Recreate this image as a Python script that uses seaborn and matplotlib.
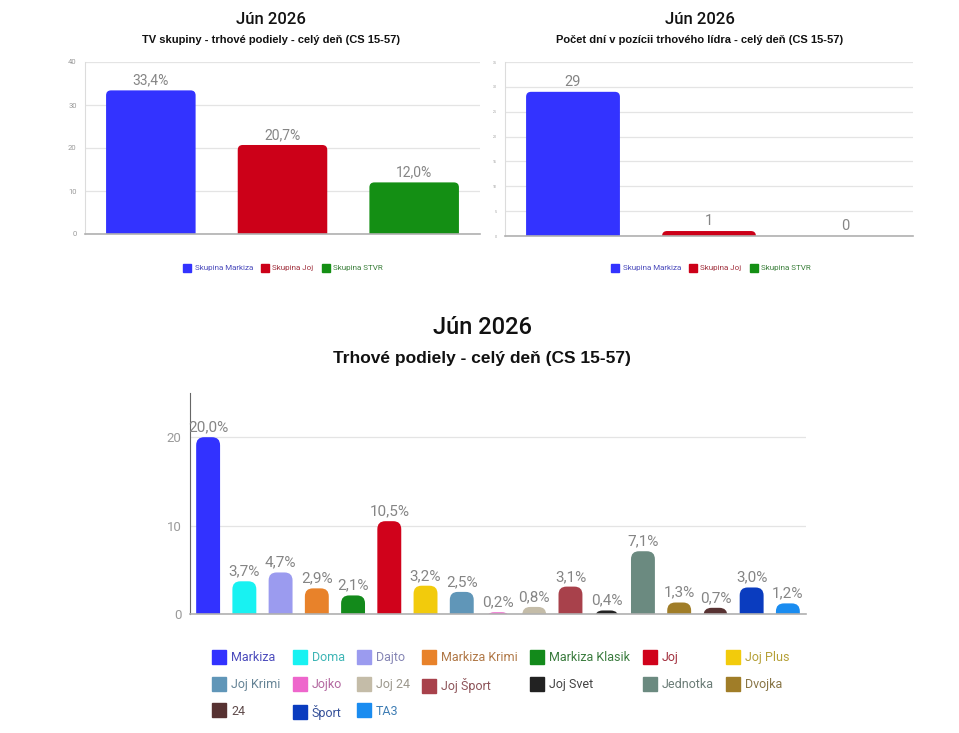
import matplotlib
matplotlib.use("Agg")
import matplotlib.pyplot as plt
import seaborn as sns
from matplotlib.patches import FancyBboxPatch
from matplotlib.lines import Line2D
import matplotlib.colors as mcolors

# data
skupiny = ["Skupina Markiza", "Skupina Joj", "Skupina STVR"]
skupiny_farby = ["#3333ff", "#cc0018", "#148f14"]
podiely_skupin = [33.4, 20.7, 12.0]
dni_lider = [29, 1, 0]

kanaly = ["Markiza", "Doma", "Dajto", "Markiza Krimi", "Markiza Klasik", "Joj",
          "Joj Plus", "Joj Krimi", "Jojko", "Joj 24", "Joj Šport", "Joj Svet",
          "Jednotka", "Dvojka", "24", "Šport", "TA3"]
kanaly_farby = ["#3232ff", "#18f2f2", "#9b9bef", "#e8822a", "#138a1b", "#d0021b",
                "#f2cb0c", "#6096b8", "#ee66cc", "#c4bca8", "#a8414b", "#222222",
                "#6b8a80", "#a07d28", "#573232", "#0a3cbf", "#1a8cf0"]
podiely_kanalov = [20.0, 3.7, 4.7, 2.9, 2.1, 10.5, 3.2, 2.5, 0.2, 0.8, 3.1, 0.4,
                   7.1, 1.3, 0.7, 3.0, 1.2]

sns.set_theme(style="white")
plt.rcParams["font.family"] = ["Roboto", "DejaVu Sans"]

W, H = 959, 733
fig = plt.figure(figsize=(W / 100, H / 100), dpi=100)
fig.patch.set_facecolor("white")


def px_axes(l, t, r, b):
    return fig.add_axes([l / W, 1 - b / H, (r - l) / W, (b - t) / H])


def zaobli(ax, r_px):
    # rounded top corners, bottom cut off by the axes
    bb = ax.get_window_extent()
    x0, x1 = ax.get_xlim()
    y0, y1 = ax.get_ylim()
    dx = (x1 - x0) / bb.width
    dy = (y1 - y0) / bb.height
    rx, ry = r_px * dx, r_px * dy
    for p in list(ax.patches):
        x, w, h = p.get_x(), p.get_width(), p.get_height()
        if h <= 0:
            p.set_visible(False)
            continue
        bottom = min(-ry, h - 2 * ry)
        fb = FancyBboxPatch((x, bottom), w, h - bottom,
                            boxstyle=f"round,pad=0,rounding_size={rx}",
                            mutation_aspect=dy / dx, fc=p.get_facecolor(),
                            ec="none", zorder=2)
        ax.add_patch(fb)
        p.set_visible(False)


def styl(ax, ylim, ticks, tsize, left_spine_col):
    ax.set_ylim(*ylim)
    ax.set_yticks(ticks)
    ax.tick_params(axis="y", labelsize=tsize, colors="#9a9a9a", length=0, pad=6)
    ax.yaxis.grid(True, color="#e4e4e4", lw=0.9)
    ax.set_axisbelow(True)
    for s in ["top", "right"]:
        ax.spines[s].set_visible(False)
    ax.spines["left"].set_color(left_spine_col)
    ax.spines["left"].set_linewidth(0.8)
    ax.spines["bottom"].set_color("#b0b0b0")
    ax.spines["bottom"].set_linewidth(1.2)
    ax.set_xlabel("")
    ax.set_ylabel("")


def mix(c, amt=0.55):
    r, g, b = mcolors.to_rgb(c)
    gr = 0.42
    return (amt * r + (1 - amt) * gr, amt * g + (1 - amt) * gr, amt * b + (1 - amt) * gr)


label_kw = dict(color="#858585", fontweight="normal")

# ---- top left
ax1 = px_axes(85, 62, 480, 234)
sns.barplot(x=skupiny, y=podiely_skupin, hue=skupiny, palette=skupiny_farby,
            width=0.68, legend=False, ax=ax1, saturation=1)
styl(ax1, (0, 40), [0, 10, 20, 30, 40], 5.5, "#dcdcdc")
ax1.set_xticks([1])
ax1.set_xticklabels([""])
ax1.tick_params(axis="x", length=3, color="#cccccc")
for cont, v in zip(ax1.containers, podiely_skupin):
    ax1.bar_label(cont, labels=[f"{v:.1f}".replace(".", ",") + "%"], padding=2,
                  fontsize=10, **label_kw)
zaobli(ax1, 5)

# ---- top right
ax2 = px_axes(505, 62, 913, 236)
sns.barplot(x=skupiny, y=dni_lider, hue=skupiny, palette=skupiny_farby,
            width=0.69, legend=False, ax=ax2, saturation=1)
styl(ax2, (0, 35), list(range(0, 36, 5)), 2.5, "#dcdcdc")
ax2.set_xticks([1])
ax2.set_xticklabels([""])
ax2.tick_params(axis="x", length=3, color="#cccccc")
for cont, v in zip(ax2.containers, dni_lider):
    ax2.bar_label(cont, labels=[str(v)], padding=2, fontsize=10.5, **label_kw)
zaobli(ax2, 5)

for ax, cx in [(ax1, 283), (ax2, 711)]:
    hs = [Line2D([], [], marker="s", ls="", markersize=6, color=c) for c in skupiny_farby]
    leg = fig.legend(hs, skupiny, loc="center", bbox_to_anchor=(cx / W, 1 - 268 / H),
                     ncol=3, frameon=False, fontsize=5.8, handletextpad=0.4,
                     columnspacing=1.0, handlelength=1.0)
    for t, c in zip(leg.get_texts(), skupiny_farby):
        t.set_color(mix(c))

# ---- bottom
ax3 = px_axes(190, 393, 806, 614)
sns.barplot(x=kanaly, y=podiely_kanalov, hue=kanaly, palette=kanaly_farby,
            width=0.66, legend=False, ax=ax3, saturation=1)
styl(ax3, (0, 25), [0, 10, 20], 9.5, "#666666")
ax3.set_xticks([8])
ax3.set_xticklabels([""])
ax3.tick_params(axis="x", length=6, color="#999999", width=0.8)
for cont, v in zip(ax3.containers, podiely_kanalov):
    ax3.bar_label(cont, labels=[f"{v:.1f}".replace(".", ",") + "%"], padding=2,
                  fontsize=11, **label_kw)
zaobli(ax3, 8)

# legend laid out row by row (matplotlib fills columns first)
poradie = [0, 7, 14, 1, 8, 15, 2, 9, 16, 3, 10, 4, 11, 5, 12, 6, 13]
hs = [Line2D([], [], marker="s", ls="", markersize=10.5, color=kanaly_farby[i]) for i in poradie]
leg = fig.legend(hs, [kanaly[i] for i in poradie], loc="upper center",
                 bbox_to_anchor=(501 / W, 1 - 640 / H),
                 ncol=7, frameon=False, fontsize=9, handletextpad=0.45,
                 columnspacing=1.05, handlelength=1.0, labelspacing=1.1)
for t, i in zip(leg.get_texts(), poradie):
    t.set_color(mix(kanaly_farby[i]))

# ---- titles
fig.text(271 / W, 1 - 19 / H, "Jún 2026", ha="center", va="center", fontsize=12,
         fontweight="medium", color="#111")
fig.text(271 / W, 1 - 40 / H, "TV skupiny - trhové podiely - celý deň (CS 15-57)",
         ha="center", va="center", fontsize=8, fontweight="bold",
         family=["Liberation Sans", "DejaVu Sans"], color="#111")
fig.text(700 / W, 1 - 19 / H, "Jún 2026", ha="center", va="center", fontsize=12,
         fontweight="medium", color="#111")
fig.text(700 / W, 1 - 40 / H, "Počet dní v pozícii trhového lídra - celý deň (CS 15-57)",
         ha="center", va="center", fontsize=8, fontweight="bold",
         family=["Liberation Sans", "DejaVu Sans"], color="#111")
fig.text(482 / W, 1 - 328 / H, "Jún 2026", ha="center", va="center", fontsize=17,
         fontweight="medium", color="#111")
fig.text(482 / W, 1 - 358 / H, "Trhové podiely - celý deň (CS 15-57)",
         ha="center", va="center", fontsize=12.5, fontweight="bold",
         family=["Liberation Sans", "DejaVu Sans"], color="#111")

fig.savefig("out.png", dpi=100, facecolor="white")
